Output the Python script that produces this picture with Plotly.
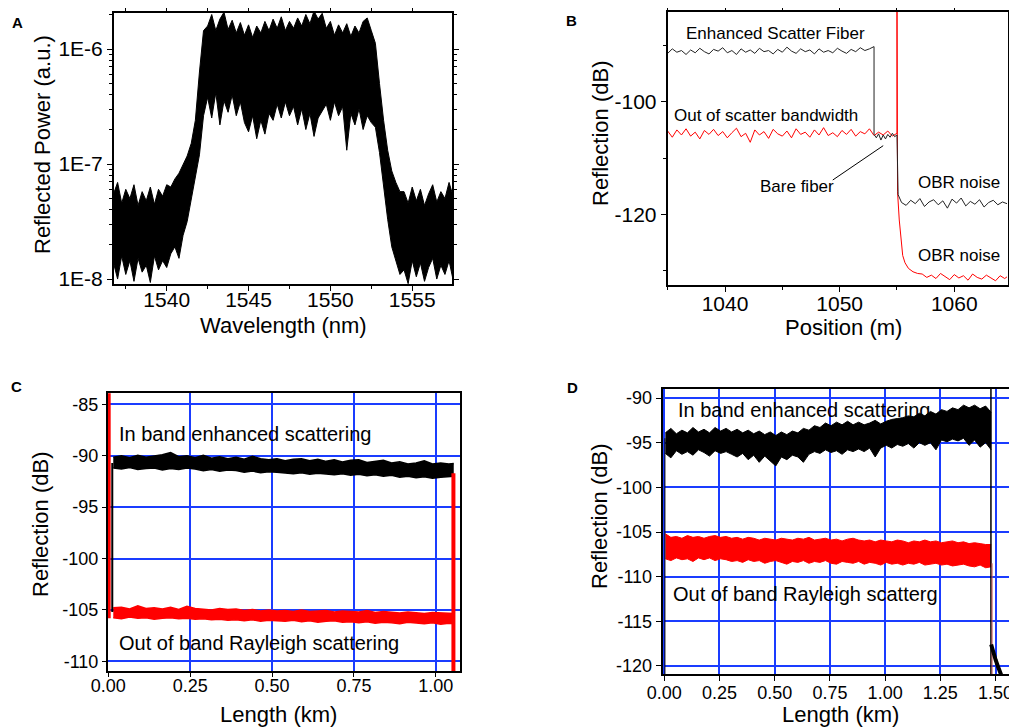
import plotly.graph_objects as go

# ---------------- Panel A : reflected power spectrum (envelope of dense noise) ----------------
a_wl = [1536.75, 1537.0, 1537.25, 1537.5, 1537.75, 1538.0, 1538.25, 1538.5, 1538.75, 1539.0,
        1539.25, 1539.5, 1539.75, 1540.0, 1540.25, 1540.5, 1540.75, 1541.0, 1541.25, 1541.5,
        1541.75, 1542.0, 1542.25, 1542.5, 1542.75, 1543.0, 1543.25, 1543.5, 1543.75, 1544.0,
        1544.25, 1544.5, 1544.75, 1545.0, 1545.25, 1545.5, 1545.75, 1546.0, 1546.25, 1546.5,
        1546.75, 1547.0, 1547.25, 1547.5, 1547.75, 1548.0, 1548.25, 1548.5, 1548.75, 1549.0,
        1549.25, 1549.5, 1549.75, 1550.0, 1550.25, 1550.5, 1550.75, 1551.0, 1551.25, 1551.5,
        1551.75, 1552.0, 1552.25, 1552.5, 1552.75, 1553.0, 1553.25, 1553.5, 1553.75, 1554.0,
        1554.25, 1554.5, 1554.75, 1555.0, 1555.25, 1555.5, 1555.75, 1556.0, 1556.25, 1556.5,
        1556.75, 1557.0, 1557.25, 1557.5]
a_upper_exp = [-7.26, -7.16, -7.34, -7.22, -7.30, -7.18, -7.36, -7.24, -7.32, -7.20, -7.35, -7.22, -7.28, -7.18,
               -7.20, -7.13, -7.08, -7.00, -6.93, -6.82, -6.62, -6.20, -5.84,
               -5.80, -5.70, -5.84, -5.74, -5.68, -5.83, -5.75, -5.86, -5.77, -5.88,
               -5.79, -5.90, -5.80, -5.86, -5.76, -5.84, -5.74, -5.82, -5.72, -5.84,
               -5.76, -5.82, -5.73, -5.80, -5.70, -5.78, -5.67, -5.74, -5.69, -5.82,
               -5.76, -5.88, -5.79, -5.86, -5.78, -5.89, -5.80, -5.86, -5.76, -5.73, -5.84,
               -5.95, -6.30, -6.62, -6.88, -7.06, -7.16, -7.24,
               -7.24, -7.34, -7.20, -7.32, -7.22, -7.36, -7.26, -7.18, -7.33, -7.24, -7.30, -7.16, -7.28]
a_lower_exp = [-7.86, -8.00, -7.80, -7.96, -7.84, -8.02, -7.82, -7.94, -7.88, -8.03, -7.80, -7.92, -7.84, -7.90,
               -7.78, -7.72, -7.82, -7.62, -7.50, -7.30, -7.10, -6.92, -6.58,
               -6.42, -6.60, -6.38, -6.66, -6.45, -6.55, -6.40, -6.58, -6.46, -6.64,
               -6.72, -6.58, -6.78, -6.62, -6.74, -6.56, -6.62, -6.48, -6.60, -6.46,
               -6.58, -6.50, -6.66, -6.52, -6.70, -6.56, -6.76, -6.60, -6.54, -6.48,
               -6.62, -6.46, -6.58, -6.50, -6.88, -6.56, -6.66, -6.52, -6.70, -6.58, -6.64,
               -6.68, -6.90, -7.20, -7.48, -7.72, -7.85, -7.96,
               -7.92, -8.04, -7.84, -7.98, -7.86, -8.02, -7.90, -7.82, -8.00, -7.88, -7.96, -7.84, -8.01]
a_ticks = [1e-8, 1e-7, 1e-6]
a_ticktext = ["1E-8", "1E-7", "1E-6"]

# ---------------- Panel B : reflection vs position ----------------
b_black_x = [1035.0, 1035.4, 1035.8, 1036.2, 1036.6, 1037.0, 1037.4, 1037.8, 1038.2, 1038.6,
             1039.0, 1039.4, 1039.8, 1040.2, 1040.6, 1041.0, 1041.4, 1041.8, 1042.2, 1042.6,
             1043.0, 1043.4, 1043.8, 1044.2, 1044.6, 1045.0, 1045.4, 1045.8, 1046.2, 1046.6,
             1047.0, 1047.4, 1047.8, 1048.2, 1048.6, 1049.0, 1049.4, 1049.8, 1050.2, 1050.6,
             1051.0, 1051.4, 1051.8, 1052.2, 1052.6, 1053.0,
             1053.0, 1053.2, 1053.4, 1053.6, 1053.8, 1054.0, 1054.2, 1054.4, 1054.6, 1054.8, 1055.0, 1055.1,
             1055.4, 1055.8, 1056.2, 1056.6, 1057.0, 1057.4, 1057.8, 1058.2, 1058.6, 1059.0,
             1059.4, 1059.8, 1060.2, 1060.6, 1061.0, 1061.4, 1061.8, 1062.2, 1062.6, 1063.0,
             1063.4, 1063.8, 1064.2, 1064.6]
b_black_y = [-91.4, -90.6, -91.2, -90.9, -91.6, -90.8, -91.3, -90.5, -91.1, -91.5,
             -90.7, -91.0, -90.4, -91.3, -90.9, -91.6, -90.6, -91.2, -90.8, -91.4,
             -90.5, -91.1, -90.9, -91.5, -90.7, -91.2, -90.3, -91.0, -91.4, -90.6,
             -91.1, -90.8, -91.5, -90.6, -91.2, -90.9, -91.3, -90.5, -91.0, -91.4,
             -90.7, -91.1, -90.4, -90.9, -90.6, -90.2,
             -105.8, -106.4, -105.7, -106.8, -105.9, -106.6, -105.8, -106.3, -105.6, -106.2, -105.9, -116.5,
             -117.9, -118.4, -117.5, -118.1, -117.2, -118.6, -117.8, -117.4, -118.3, -117.6,
             -118.9, -117.3, -118.0, -117.1, -118.5, -117.7, -118.2, -117.4, -118.7, -117.9,
             -117.5, -118.3, -117.8, -118.1]
b_red_x = [1035.0, 1035.4, 1035.8, 1036.2, 1036.6, 1037.0, 1037.4, 1037.8, 1038.2, 1038.6,
           1039.0, 1039.4, 1039.8, 1040.2, 1040.6, 1041.0, 1041.4, 1041.8, 1042.2, 1042.6,
           1043.0, 1043.4, 1043.8, 1044.2, 1044.6, 1045.0, 1045.4, 1045.8, 1046.2, 1046.6,
           1047.0, 1047.4, 1047.8, 1048.2, 1048.6, 1049.0, 1049.4, 1049.8, 1050.2, 1050.6,
           1051.0, 1051.4, 1051.8, 1052.2, 1052.6, 1053.0, 1053.4, 1053.8, 1054.2, 1054.6, 1055.0,
           1055.0, 1055.05, 1055.2, 1055.35, 1055.5, 1055.7, 1056.0, 1056.4, 1056.8,
           1057.2, 1057.6, 1058.0, 1058.4, 1058.8, 1059.2, 1059.6, 1060.0, 1060.4, 1060.8,
           1061.2, 1061.6, 1062.0, 1062.4, 1062.8, 1063.2, 1063.6, 1064.0, 1064.4, 1064.6]
b_red_y = [-105.2, -106.3, -105.0, -105.9, -104.8, -106.1, -105.4, -106.6, -105.1, -105.8,
           -104.9, -106.0, -105.3, -106.4, -105.5, -104.7, -106.2, -105.6, -107.2, -105.0,
           -105.9, -105.3, -106.5, -104.9, -105.7, -106.1, -105.2, -106.4, -104.8, -105.8,
           -105.4, -106.3, -105.0, -105.9, -104.6, -106.0, -105.5, -106.2, -105.1, -105.8,
           -104.9, -106.1, -105.3, -105.7, -104.8, -106.0, -105.4, -105.9, -105.2, -106.1, -105.6,
           -80.0, -116.0, -121.0, -125.0, -127.3, -128.6, -129.6, -130.2, -130.5,
           -130.6, -131.2, -130.8, -131.4, -130.5, -131.0, -131.6, -130.7, -131.3, -130.9,
           -131.7, -130.6, -131.2, -131.5, -130.8, -131.3, -131.8, -130.9, -131.4, -131.1]
b_ticks = [-120, -100]
b_ticktext = ["-120", "-100"]
b_minor = [-130, -110, -90]

# ---------------- Panel C : 1 km fiber (band envelopes) ----------------
c_x = [0.015, 0.04, 0.065, 0.09, 0.115, 0.14, 0.165, 0.19, 0.215, 0.24,
       0.265, 0.29, 0.315, 0.34, 0.365, 0.39, 0.415, 0.44, 0.465, 0.49,
       0.515, 0.54, 0.565, 0.59, 0.615, 0.64, 0.665, 0.69, 0.715, 0.74,
       0.765, 0.79, 0.815, 0.84, 0.865, 0.89, 0.915, 0.94, 0.965, 0.99,
       1.015, 1.04, 1.055]
c_in_upper = [-90.15, -90.0, -90.2, -89.95, -90.15, -90.05, -89.9, -89.7, -90.1, -90.0,
              -90.2, -89.95, -90.25, -90.1, -90.3, -90.15, -90.35, -90.05, -90.3, -90.4,
              -90.3, -90.5, -90.35, -90.3, -90.5, -90.35, -90.55, -90.4, -90.6, -90.45,
              -90.4, -90.65, -90.55, -90.45, -90.7, -90.6, -90.8, -90.7, -90.5, -90.8,
              -90.7, -90.8, -90.75]
c_in_lower = [-91.2, -91.3, -91.15, -91.35, -91.25, -91.2, -91.4, -91.25, -91.35, -91.2,
              -91.3, -91.45, -91.35, -91.5, -91.4, -91.45, -91.6, -91.5, -91.65, -91.55,
              -91.6, -91.7, -91.75, -91.65, -91.8, -91.7, -91.75, -91.85, -91.75, -91.9,
              -91.8, -91.95, -91.85, -92.0, -91.9, -92.1, -92.0, -92.15, -92.05, -92.2,
              -92.1, -92.05, -92.0]
c_out_upper = [-104.8, -104.75, -104.9, -104.6, -104.85, -104.8, -104.9, -104.75, -104.95, -104.65,
               -104.85, -104.9, -105.0, -104.85, -104.95, -104.9, -105.05, -104.95, -105.1, -105.0,
               -105.1, -105.05, -105.15, -105.0, -105.15, -105.1, -105.05, -105.2, -105.1, -105.15,
               -105.2, -105.05, -105.25, -105.15, -105.2, -105.3, -105.2, -105.25, -105.35, -105.25,
               -105.3, -105.3, -105.35]
c_out_lower = [-105.75, -105.85, -105.7, -105.8, -105.75, -105.9, -105.8, -105.75, -105.85, -105.8,
               -105.9, -105.85, -105.95, -105.9, -106.0, -105.95, -106.05, -105.95, -106.1, -106.0,
               -106.05, -106.1, -106.0, -106.15, -106.05, -106.2, -106.1, -106.05, -106.2, -106.15,
               -106.25, -106.15, -106.3, -106.2, -106.25, -106.35, -106.2, -106.3, -106.35, -106.25,
               -106.4, -106.3, -106.35]
c_red_start_x = [0.001, 0.001]
c_red_start_y = [-83.0, -105.8]
c_black_start_x = [0.012, 0.012]
c_black_start_y = [-90.7, -105.2]
c_red_end_x = [1.054, 1.054]
c_red_end_y = [-91.7, -112.0]
c_xticks = [0.0, 0.25, 0.5, 0.75, 1.0]
c_xticktext = ["0.00", "0.25", "0.50", "0.75", "1.00"]
c_yticks = [-110, -105, -100, -95, -90, -85]
c_yticktext = ["-110", "-105", "-100", "-95", "-90", "-85"]

# ---------------- Panel D : 1.5 km fiber (band envelopes) ----------------
d_x = [0.005, 0.03, 0.055, 0.08, 0.105, 0.13, 0.155, 0.18, 0.205, 0.23,
       0.255, 0.28, 0.305, 0.33, 0.355, 0.38, 0.405, 0.43, 0.455, 0.48,
       0.505, 0.53, 0.555, 0.58, 0.605, 0.63, 0.655, 0.68, 0.705, 0.73,
       0.755, 0.78, 0.805, 0.83, 0.855, 0.88, 0.905, 0.93, 0.955, 0.98,
       1.005, 1.03, 1.055, 1.08, 1.105, 1.13, 1.155, 1.18, 1.205, 1.23,
       1.255, 1.28, 1.305, 1.33, 1.355, 1.38, 1.405, 1.43, 1.455, 1.48]
d_in_upper = [-93.9, -93.4, -94.0, -93.6, -93.9, -93.3, -93.8, -93.5, -93.9, -93.3,
              -93.7, -93.4, -93.8, -93.5, -93.9, -93.6, -94.0, -93.7, -94.1, -93.8,
              -94.2, -93.8, -94.1, -93.7, -93.9, -93.4, -93.6, -93.1, -93.3, -92.8,
              -93.1, -92.7, -93.0, -92.6, -93.0, -92.7, -93.0, -92.8, -92.5, -92.9,
              -92.6, -92.4, -92.3, -92.2, -92.0, -92.1, -91.7, -92.0, -91.5, -91.8,
              -91.3, -91.5, -91.1, -91.3, -90.8, -91.1, -90.8, -91.2, -90.9, -91.6]
d_in_lower = [-96.2, -96.7, -95.9, -96.3, -96.0, -96.4, -95.8, -96.1, -96.5, -95.9,
              -96.2, -96.0, -96.3, -96.6, -96.2, -96.9, -96.4, -97.2, -96.5, -97.0,
              -97.6, -96.6, -96.9, -96.4, -96.6, -97.2, -96.3, -96.0, -96.2, -95.8,
              -96.1, -95.9, -96.3, -95.8, -96.0, -95.7, -96.0, -95.6, -96.6, -95.6,
              -95.3, -95.6, -95.2, -95.4, -95.1, -95.6, -95.0, -95.3, -95.0, -95.8,
              -94.7, -94.9, -94.6, -94.8, -94.5, -95.3, -94.7, -95.5, -95.0, -95.8]
d_out_upper = [-105.2, -105.6, -105.5, -105.7, -105.4, -105.6, -105.5, -105.7, -105.5, -105.4,
               -105.6, -105.5, -105.7, -105.6, -105.8, -105.6, -105.7, -105.9, -105.7, -105.8,
               -105.9, -105.7, -105.8, -105.9, -105.7, -105.8, -105.6, -105.9, -105.8, -105.7,
               -105.9, -105.8, -106.0, -105.8, -105.7, -105.9, -106.0, -105.9, -106.1, -105.9,
               -106.0, -106.1, -105.9, -106.0, -106.2, -106.0, -106.1, -105.9, -106.1, -106.0,
               -106.2, -106.1, -106.0, -106.2, -106.1, -106.3, -106.2, -106.3, -106.4, -106.4]
d_out_lower = [-108.0, -108.2, -107.9, -108.1, -108.0, -108.3, -107.9, -108.1, -107.9, -108.2,
               -108.0, -108.1, -108.3, -108.2, -108.4, -108.1, -108.3, -108.2, -108.5, -108.3,
               -108.2, -108.4, -108.6, -108.3, -108.4, -108.2, -108.5, -108.3, -108.4, -108.2,
               -108.5, -108.6, -108.3, -108.4, -108.5, -108.3, -108.6, -108.4, -108.5, -108.7,
               -108.4, -108.6, -108.5, -108.7, -108.5, -108.6, -108.4, -108.7, -108.6, -108.5,
               -108.7, -108.6, -108.8, -108.7, -108.6, -108.8, -108.9, -108.7, -109.0, -108.9]
d_black_start_x = [0.003, 0.003]
d_black_start_y = [-94.5, -121.5]
d_black_end_x = [1.479, 1.479]
d_black_end_y = [-88.0, -121.5]
d_red_end_x = [1.484, 1.484]
d_red_end_y = [-108.5, -121.5]
d_tail_x = [1.48, 1.49, 1.50, 1.51, 1.52, 1.53]
d_tail_y = [-117.6, -118.6, -119.3, -120.0, -120.6, -121.3]
d_xticks = [0.0, 0.25, 0.5, 0.75, 1.0, 1.25, 1.5]
d_xticktext = ["0.00", "0.25", "0.50", "0.75", "1.00", "1.25", "1.50"]
d_yticks = [-120, -115, -110, -105, -100, -95, -90]
d_yticktext = ["-120", "-115", "-110", "-105", "-100", "-95", "-90"]

# ---------------- figure ----------------
FONT = "Liberation Sans, Arial, sans-serif"
BLACK = "#000000"
RED = "#ff0000"
BLUE = "#1a3cff"
OFF = 8                      # the page body margin that offsets the figure
W, H = 1017 - OFF, 728 - OFF


def dx(sx):
    return min(1.0, max(0.0, (sx - OFF) / W))


def dy(sy):
    return min(1.0, max(0.0, 1 - (sy - OFF) / H))


fig = go.Figure()


def band(x, lo, hi, color, xa, ya, lw=1):
    fig.add_trace(go.Scatter(x=x, y=hi, mode="lines", line=dict(color=color, width=lw),
                             xaxis=xa, yaxis=ya, hoverinfo="skip"))
    fig.add_trace(go.Scatter(x=x, y=lo, mode="lines", line=dict(color=color, width=lw),
                             fill="tonexty", fillcolor=color, xaxis=xa, yaxis=ya, hoverinfo="skip"))


def line(x, y, color, width, xa, ya):
    fig.add_trace(go.Scatter(x=x, y=y, mode="lines", line=dict(color=color, width=width),
                             xaxis=xa, yaxis=ya, hoverinfo="skip"))


# Panel A
band(a_wl, [10 ** v for v in a_lower_exp], [10 ** v for v in a_upper_exp], BLACK, "x", "y", 1)

# Panel B
line(b_red_x, b_red_y, RED, 1, "x2", "y2")
line(b_black_x, b_black_y, "#222222", 1, "x2", "y2")

# Panel C
band(c_x, c_in_lower, c_in_upper, BLACK, "x3", "y3", 1.5)
band(c_x, c_out_lower, c_out_upper, RED, "x3", "y3", 1.5)
line(c_black_start_x, c_black_start_y, BLACK, 2, "x3", "y3")
line(c_red_start_x, c_red_start_y, RED, 4, "x3", "y3")
line(c_red_end_x, c_red_end_y, RED, 4, "x3", "y3")

# Panel D
band(d_x, d_in_lower, d_in_upper, BLACK, "x4", "y4", 1)
band(d_x, d_out_lower, d_out_upper, RED, "x4", "y4", 1)
line(d_black_start_x, d_black_start_y, BLACK, 1, "x4", "y4")
line(d_black_end_x, d_black_end_y, BLACK, 1.5, "x4", "y4")
line(d_red_end_x, d_red_end_y, "#c05050", 1, "x4", "y4")
line(d_tail_x, d_tail_y, BLACK, 4, "x4", "y4")

common = dict(showline=True, linecolor="black", zeroline=False, ticks="outside",
              tickcolor="black", color="black", automargin=False)

fig.update_layout(
    width=W, height=H, margin=dict(l=0, r=0, t=0, b=0, autoexpand=False),
    paper_bgcolor="white", plot_bgcolor="white", showlegend=False,
    font=dict(family=FONT, color="black"),
    xaxis=dict(domain=[dx(114), dx(452)], range=[1536.78, 1557.43], anchor="y",
               tick0=1540, dtick=5, ticklen=5, linewidth=2, mirror="ticks", showgrid=False,
               minor=dict(dtick=2.5, ticks="outside", ticklen=3, tickcolor="black"),
               tickfont=dict(size=21), ticklabelstandoff=-9, **common),
    yaxis=dict(domain=[dy(284), dy(13)], type="log", range=[-8.043, -5.687], anchor="x",
               tickvals=a_ticks, ticktext=a_ticktext, ticklen=5, linewidth=2, mirror="ticks",
               showgrid=False,
               minor=dict(ticks="outside", ticklen=3, tickcolor="black", dtick="D1"),
               tickfont=dict(size=21), **common),
    xaxis2=dict(domain=[dx(667.7), dx(1007.7)], range=[1035.0, 1064.66], anchor="y2",
                tick0=1040, dtick=10, ticklen=5, linewidth=2, mirror="ticks", showgrid=False,
                minor=dict(dtick=5, ticks="outside", ticklen=3, tickcolor="black"),
                tickfont=dict(size=21), ticklabelstandoff=-6, **common),
    yaxis2=dict(domain=[dy(285), dy(11.7)], range=[-132.55, -84.0], anchor="x2",
                tickvals=b_ticks, ticktext=b_ticktext, ticklen=5, linewidth=2, mirror="ticks",
                showgrid=False,
                minor=dict(tickmode="array", tickvals=b_minor, ticks="outside", ticklen=3,
                           tickcolor="black"),
                tickfont=dict(size=21), **common),
    xaxis3=dict(domain=[dx(107.7), dx(460.3)], range=[-0.002, 1.075], anchor="y3",
                tickvals=c_xticks, ticktext=c_xticktext, ticklen=4, linewidth=1.5, mirror=True,
                showgrid=True, gridcolor=BLUE, gridwidth=1.5,
                tickfont=dict(size=18), ticklabelstandoff=-6, **common),
    yaxis3=dict(domain=[dy(671), dy(393.3)], range=[-110.94, -83.93], anchor="x3",
                tickvals=c_yticks, ticktext=c_yticktext, ticklen=4, linewidth=1.5, mirror=True,
                showgrid=True, gridcolor=BLUE, gridwidth=1.5,
                tickfont=dict(size=18), **common),
    xaxis4=dict(domain=[dx(662.7), 1.0], range=[-0.007, 1.597], anchor="y4",
                tickvals=d_xticks, ticktext=d_xticktext, ticklen=5, linewidth=2, mirror=True,
                showgrid=True, gridcolor=BLUE, gridwidth=1.5,
                tickfont=dict(size=18), ticklabelstandoff=-4, **common),
    yaxis4=dict(domain=[dy(674.3), dy(389)], range=[-120.93, -88.99], anchor="x4",
                tickvals=d_yticks, ticktext=d_yticktext, ticklen=5, linewidth=2, mirror=False,
                showgrid=True, gridcolor=BLUE, gridwidth=1.5,
                tickfont=dict(size=18), **common),
)


def paper_text(text, px, py, size, angle=0, bold=False):
    fig.add_annotation(text=("<b>%s</b>" % text) if bold else text, x=dx(px), y=dy(py),
                       xref="paper", yref="paper", showarrow=False, textangle=angle,
                       font=dict(size=size, family=FONT, color="black"),
                       xanchor="center", yanchor="middle")


# panel letters
for lbl, px, py in [("A", 17, 22), ("B", 571, 20), ("C", 16, 386), ("D", 572, 387)]:
    paper_text(lbl, px, py, 15, bold=True)

# axis titles
paper_text("Wavelength (nm)", 283, 325, 22)
paper_text("Reflected Power (a.u.)", 42, 145, 22, angle=-90)
paper_text("Position (m)", 843, 327, 22)
paper_text("Reflection (dB)", 600, 133, 22, angle=-90)
paper_text("Length (km)", 278, 714, 22)
paper_text("Reflection (dB)", 40, 524, 22, angle=-90)
paper_text("Length (km)", 840, 714, 22)
paper_text("Reflection (dB)", 599, 516, 22, angle=-90)

# panel B labels
b_txt = dict(size=17, family=FONT, color="black")
for txt, xx, yy in [("Enhanced Scatter Fiber", 1044.4, -87.8),
                    ("Out of scatter bandwidth", 1043.6, -102.4),
                    ("Bare fiber", 1046.3, -115.1),
                    ("OBR noise", 1060.4, -114.3),
                    ("OBR noise", 1060.4, -127.3)]:
    fig.add_annotation(text=txt, x=xx, y=yy, xref="x2", yref="y2", showarrow=False,
                       font=b_txt, xanchor="center", yanchor="middle")
fig.add_shape(type="line", x0=1049.4, y0=-113.9, x1=1053.8, y1=-107.8, xref="x2", yref="y2",
              line=dict(color="black", width=1))

# panel C / D labels
cd_txt = dict(size=20, family=FONT, color="black")
fig.add_annotation(text="In band enhanced scattering", x=0.027, y=-87.9, xref="x3", yref="y3",
                   showarrow=False, font=cd_txt, xanchor="left", yanchor="middle")
fig.add_annotation(text="Out of band Rayleigh scattering", x=0.027, y=-108.2, xref="x3", yref="y3",
                   showarrow=False, font=cd_txt, xanchor="left", yanchor="middle")
fig.add_annotation(text="In band enhanced scattering", x=0.053, y=-91.35, xref="x4", yref="y4",
                   showarrow=False, font=cd_txt, xanchor="left", yanchor="middle")
fig.add_annotation(text="Out of band Rayleigh scatterg", x=0.030, y=-111.9, xref="x4", yref="y4",
                   showarrow=False, font=cd_txt, xanchor="left", yanchor="middle")

fig.write_html("out.html")
